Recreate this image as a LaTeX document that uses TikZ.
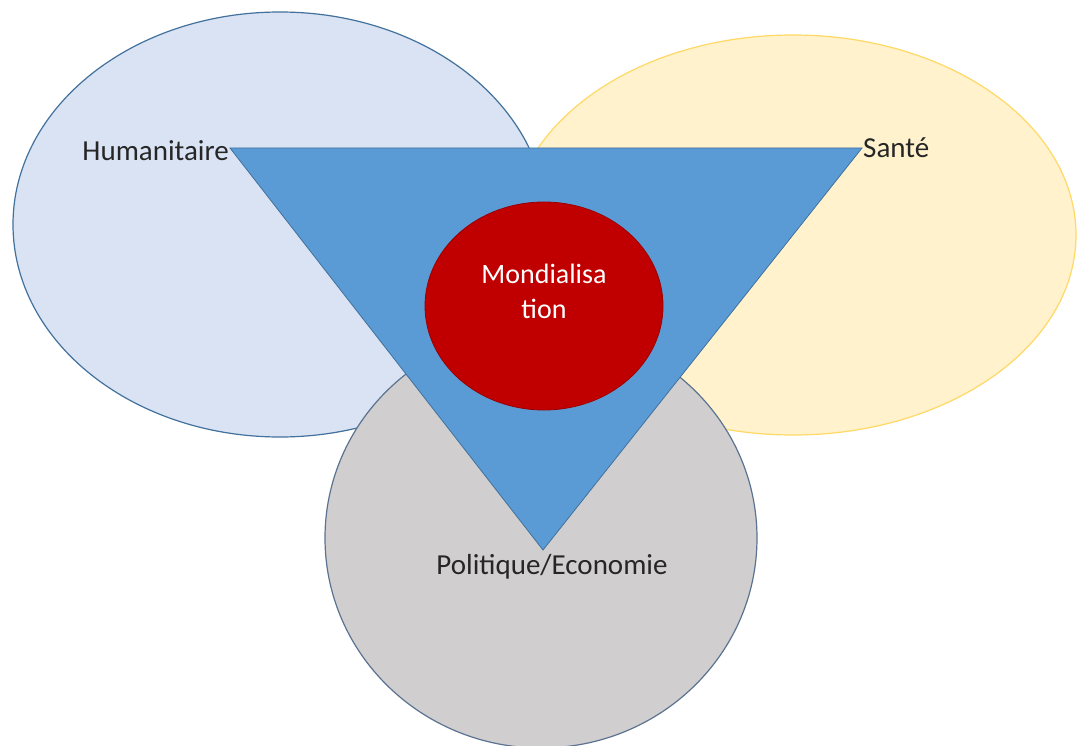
\documentclass[tikz,border=0pt]{standalone}
\usepackage{fontspec}
\setmainfont{Carlito}
\definecolor{lbfill}{HTML}{DAE3F3}
\definecolor{lbline}{HTML}{41719C}
\definecolor{yfill}{HTML}{FFF2CC}
\definecolor{yline}{HTML}{FFD966}
\definecolor{gfill}{HTML}{D0CECE}
\definecolor{gline}{HTML}{5B7391}
\definecolor{trifill}{HTML}{5B9BD5}
\definecolor{redfill}{HTML}{C00000}
\tikzset{
  lbl/.style={font=\fontsize{29}{35}\selectfont, text=black!85, inner sep=0pt},
}
\usetikzlibrary{shapes.geometric}
\begin{document}
\begin{tikzpicture}[x=1pt,y=-1pt]
\useasboundingbox (0,0) rectangle (1078,746);
\fill[white] (0,0) rectangle (1078,746);
\draw[fill=lbfill, draw=lbline, line width=1.2pt] (280,224.5) ellipse [x radius=267, y radius=212.5];
\draw[fill=yfill, draw=yline, line width=1.2pt] (793,235) ellipse [x radius=283, y radius=200];
\draw[fill=gfill, draw=gline, line width=1.2pt] (541,538) ellipse [x radius=216, y radius=210];
\coordinate (tl) at (230,148);
\coordinate (tr) at (862,148);
\coordinate (bt) at (543,550);
\draw[fill=trifill, draw=lbline, line width=0.8pt] (tl) -- (tr) -- (bt) -- cycle;
\draw[fill=redfill, draw=redfill!80!black, line width=0.8pt] (544,306) ellipse [x radius=119, y radius=104];
\node[lbl, anchor=base east] (hum) at (229,161) {Humanitaire};
\node[lbl, anchor=base west] (san) at (863,158) {Santé};
\node[lbl, anchor=base] (pol) at (552,574) {Politique/Economie};
\node[lbl, text=white, align=center, font=\fontsize{28}{35}\selectfont, anchor=base] (mon) at (544,318) {Mondialisa\\tion};
\end{tikzpicture}
\end{document}
